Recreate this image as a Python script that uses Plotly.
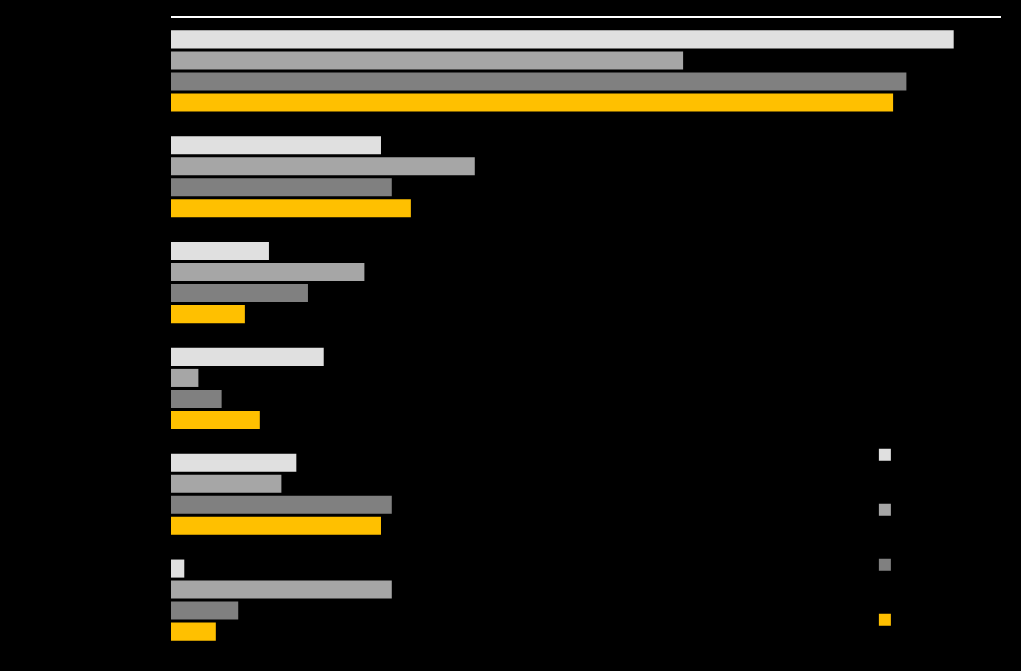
import plotly.graph_objects as go

categories = ["Category A", "Category B", "Category C", "Category D", "Category E", "Category F"]
series_names = ["Series 1", "Series 2", "Series 3", "Series 4"]
series1 = [94.3, 25.3, 11.8, 18.4, 15.1, 1.6]
series2 = [61.7, 36.6, 23.3, 3.3, 13.3, 26.6]
series3 = [88.6, 26.6, 16.5, 6.1, 26.6, 8.1]
series4 = [87.0, 28.9, 8.9, 10.7, 25.3, 5.4]
colors = ["#e0e0e0", "#a6a6a6", "#808080", "#ffc000"]

fig = go.Figure()
for i, (name, vals) in enumerate(zip(series_names, [series1, series2, series3, series4])):
    fig.add_trace(go.Bar(
        y=categories, x=vals, name=name, orientation="h",
        marker=dict(color=colors[i], line=dict(width=0)),
        legendgroup=f"g{i}",
    ))

fig.update_layout(
    width=1021, height=671,
    margin=dict(l=171, r=20, t=18, b=18),
    paper_bgcolor="#000000", plot_bgcolor="#000000",
    barmode="group", bargap=0.206, bargroupgap=0.14,
    font=dict(family="Liberation Sans, Arial, sans-serif", size=12, color="#000000"),
    showlegend=True,
    legend=dict(x=0.836, y=0.335, xanchor="left", yanchor="top",
                bgcolor="rgba(0,0,0,0)", font=dict(color="#000000", size=12),
                tracegroupgap=36, traceorder="grouped"),
    xaxis=dict(range=[0, 100], side="top", showline=True, linecolor="#ffffff", linewidth=2,
               showgrid=False, zeroline=False, tickfont=dict(color="#000000"), ticks="",
               automargin=False),
    yaxis=dict(autorange="reversed", showgrid=False, zeroline=False, showline=False,
               tickfont=dict(color="#000000"), automargin=False),
)

fig.write_html("out.html")
